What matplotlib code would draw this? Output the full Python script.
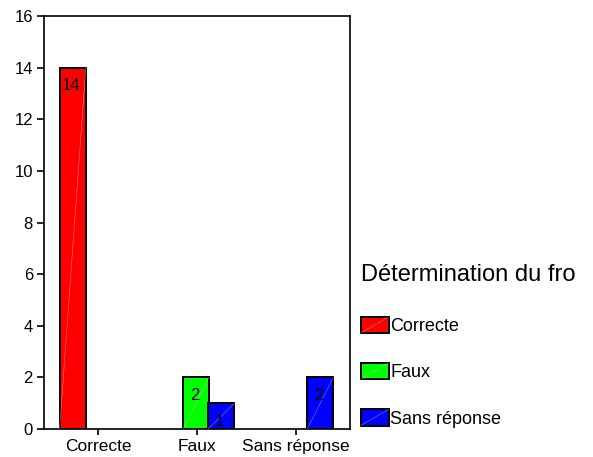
import matplotlib
matplotlib.use("Agg")
import matplotlib.pyplot as plt
from matplotlib.patches import Rectangle
from matplotlib.lines import Line2D
from matplotlib.legend_handler import HandlerBase
import numpy as np

plt.rcParams['font.family'] = ['Liberation Sans', 'DejaVu Sans']

categories = ["Correcte", "Faux", "Sans réponse"]
series_names = ["Correcte", "Faux", "Sans réponse"]
series_colors = ["#ff0000", "#00ff00", "#0000ff"]
# values[series][category]; None = no bar
values = [
    [14, None, None],
    [None, 2, None],
    [None, 1, 2],
]
yticks = [0, 2, 4, 6, 8, 10, 12, 14, 16]
legend_title = "Détermination du fro"

fig = plt.figure(figsize=(5.93, 4.57), dpi=100)
ax = fig.add_axes([44/593, 1-429/457, (350-44)/593, (429-16)/457])

width = 0.265
offsets = [-0.255, -0.01, 0.245]
x = np.arange(len(categories))
for s, (name, col) in enumerate(zip(series_names, series_colors)):
    for c, v in enumerate(values[s]):
        if v is None:
            continue
        xc = x[c] + offsets[s]
        ax.bar(xc, v, width=width, color=col, edgecolor='black', linewidth=1.4, zorder=2)
        x0, x1 = xc - width/2, xc + width/2
        ax.plot([x0, x1], [0, v], color='white', linewidth=0.4, alpha=0.5, zorder=3)
        ax.annotate(str(v), (xc, v), xytext=(-1, -13), textcoords='offset points',
                    ha='center', va='center', fontsize=12, zorder=4)

ax.set_xlim(-0.545, 2.545)
ax.set_ylim(0, 16)
ax.set_yticks(yticks)
ax.set_yticklabels([str(t) for t in yticks], fontsize=12)
ax.set_xticks(x)
ax.set_xticklabels(categories, fontsize=12.5)
for sp in ax.spines.values():
    sp.set_linewidth(1.2)
ax.tick_params(axis='y', direction='out', length=5, width=1.2, pad=3)
ax.tick_params(axis='x', direction='out', length=4, width=1.2, pad=3)


class HandlerDiag(HandlerBase):
    def create_artists(self, legend, orig_handle, xdescent, ydescent, width, height, fontsize, trans):
        r = Rectangle((-xdescent, -ydescent), width, height, facecolor=orig_handle.get_facecolor(),
                      edgecolor='black', linewidth=1.4, transform=trans)
        l = Line2D([-xdescent, -xdescent + width], [-ydescent, -ydescent + height],
                   color='white', linewidth=0.4, alpha=0.5, transform=trans)
        return [r, l]


handles = [Rectangle((0, 0), 1, 1, facecolor=c) for c in series_colors]
leg = fig.legend(handles, series_names, handler_map={Rectangle: HandlerDiag()},
                 loc='upper left', bbox_to_anchor=(357/593, 1-260/457),
                 frameon=False, fontsize=13, title=legend_title, title_fontsize=17,
                 handlelength=1.55, handleheight=1.0, handletextpad=0.1,
                 labelspacing=1.55, borderaxespad=0, borderpad=0.2)
leg._legend_box.align = "left"
leg._legend_box.sep = 22.5

fig.savefig("out.png", dpi=100)
